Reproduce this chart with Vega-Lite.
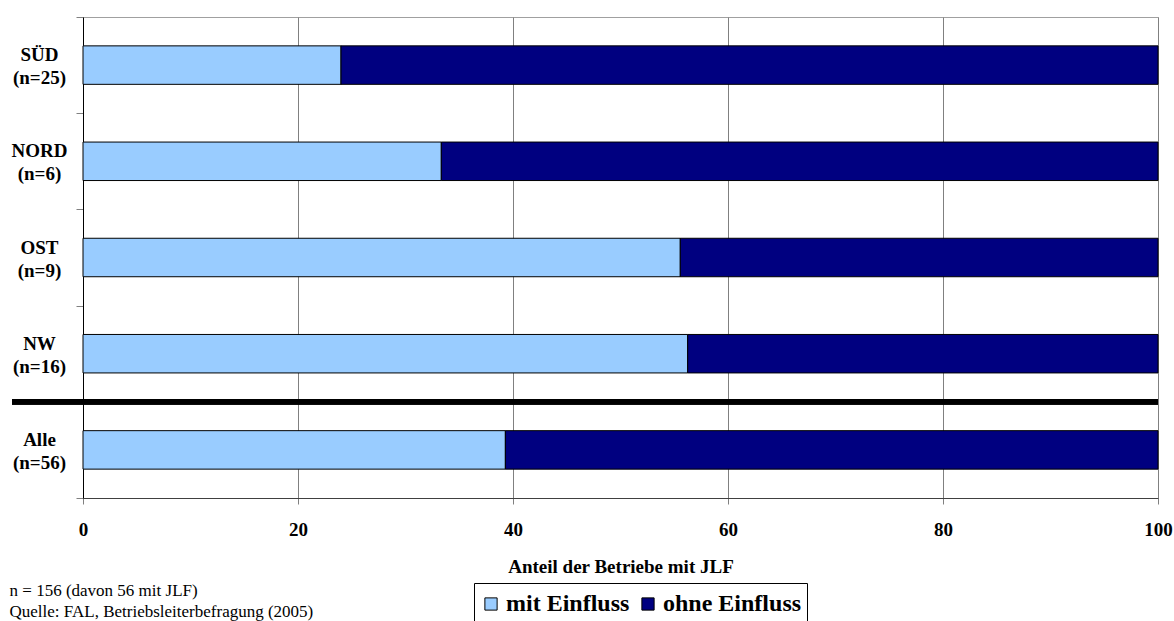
{
  "$schema": "https://vega.github.io/schema/vega-lite/v6.json",
  "width": 1075,
  "height": 481,
  "autosize": "none",
  "padding": {"left": 83, "top": 17, "right": 16, "bottom": 123},
  "background": "white",
  "config": {
    "font": "Liberation Serif, DejaVu Serif, serif",
    "view": {"stroke": "#a0a0a0", "strokeWidth": 1},
    "axis": {"labelFont": "Liberation Serif, DejaVu Serif, serif", "titleFont": "Liberation Serif, DejaVu Serif, serif"},
    "legend": {"labelFont": "Liberation Serif, DejaVu Serif, serif"}
  },
  "title": {
    "text": ["n = 156 (davon 56 mit JLF)", "Quelle: FAL, Betriebsleiterbefragung (2005)"],
    "orient": "bottom",
    "anchor": "start",
    "frame": "bounds",
    "font": "Liberation Serif, DejaVu Serif, serif",
    "fontSize": 17,
    "fontWeight": "normal",
    "color": "black",
    "lineHeight": 21,
    "offset": -43
  },
  "data": {
    "values": [
      {"region": "SÜD\n(n=25)", "einfluss": "mit Einfluss", "rank": 1, "anteil": 24},
      {"region": "SÜD\n(n=25)", "einfluss": "ohne Einfluss", "rank": 2, "anteil": 76},
      {"region": "NORD\n(n=6)", "einfluss": "mit Einfluss", "rank": 1, "anteil": 33.33},
      {"region": "NORD\n(n=6)", "einfluss": "ohne Einfluss", "rank": 2, "anteil": 66.67},
      {"region": "OST\n(n=9)", "einfluss": "mit Einfluss", "rank": 1, "anteil": 55.56},
      {"region": "OST\n(n=9)", "einfluss": "ohne Einfluss", "rank": 2, "anteil": 44.44},
      {"region": "NW\n(n=16)", "einfluss": "mit Einfluss", "rank": 1, "anteil": 56.25},
      {"region": "NW\n(n=16)", "einfluss": "ohne Einfluss", "rank": 2, "anteil": 43.75},
      {"region": "Alle\n(n=56)", "einfluss": "mit Einfluss", "rank": 1, "anteil": 39.29},
      {"region": "Alle\n(n=56)", "einfluss": "ohne Einfluss", "rank": 2, "anteil": 60.71}
    ]
  },
  "layer": [
    {
      "mark": {"type": "bar", "stroke": "black", "strokeWidth": 1, "height": {"band": 0.4}},
      "encoding": {
        "y": {
          "field": "region",
          "type": "nominal",
          "sort": null,
          "scale": {"paddingInner": 0, "paddingOuter": 0},
          "axis": {
            "title": null,
            "domainColor": "black",
            "domainWidth": 1,
            "tickColor": "#808080",
            "tickSize": 7,
            "tickBand": "extent",
            "labelExpr": "split(datum.label, '\\n')",
            "labelAlign": "center",
            "labelBaseline": "middle",
            "labelPadding": 37,
            "labelFontSize": 19,
            "labelFontWeight": "bold",
            "labelColor": "black",
            "labelLineHeight": 23,
            "labelOffset": -10.5
          }
        },
        "x": {
          "field": "anteil",
          "type": "quantitative",
          "stack": "zero",
          "scale": {"domain": [0, 100], "nice": false},
          "axis": {
            "title": "Anteil der Betriebe mit JLF",
            "values": [0, 20, 40, 60, 80, 100],
            "grid": true,
            "gridColor": "#808080",
            "gridWidth": 1,
            "domainColor": "#404040",
            "tickColor": "#808080",
            "tickSize": 6,
            "labelFontSize": 19,
            "labelFontWeight": "bold",
            "labelColor": "black",
            "labelPadding": 16,
            "labelFlush": false,
            "titleFontSize": 19,
            "titleFontWeight": "bold",
            "titleColor": "black",
            "titlePadding": 18
          }
        },
        "order": {"field": "rank", "type": "quantitative"},
        "color": {
          "field": "einfluss",
          "type": "nominal",
          "scale": {"domain": ["mit Einfluss", "ohne Einfluss"], "range": ["#99CCFF", "#000080"]},
          "legend": {
            "title": null,
            "orient": "none",
            "legendX": 391,
            "legendY": 566,
            "direction": "horizontal",
            "strokeColor": "black",
            "fillColor": "white",
            "padding": 5,
            "cornerRadius": 0,
            "clipHeight": 32,
            "symbolType": "square",
            "symbolSize": 150,
            "symbolStrokeColor": "black",
            "symbolStrokeWidth": 1,
            "symbolOpacity": 1,
            "labelFontSize": 24,
            "labelFontWeight": "bold",
            "labelColor": "black",
            "labelOffset": 3,
            "columnPadding": 6
          }
        }
      }
    },
    {
      "mark": {"type": "rule", "color": "black", "strokeWidth": 5, "clip": false},
      "encoding": {
        "y": {"datum": "Alle\n(n=56)", "type": "nominal", "bandPosition": 0},
        "x": {"datum": -6.6, "type": "quantitative"},
        "x2": {"datum": 100}
      }
    }
  ]
}
